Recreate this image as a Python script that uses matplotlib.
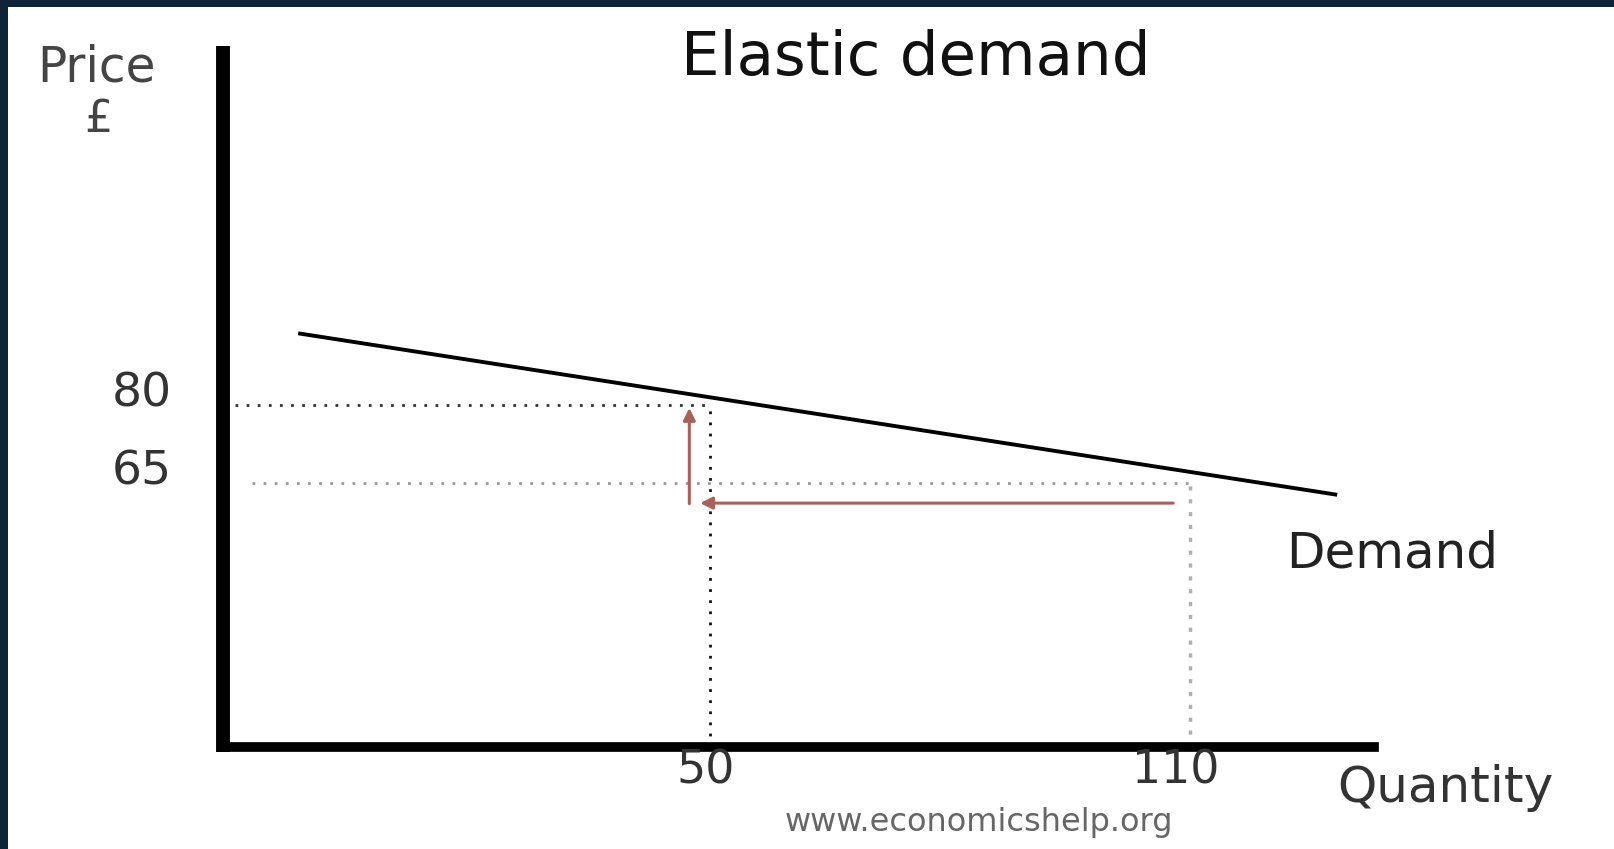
import matplotlib
matplotlib.use('Agg')
import matplotlib.pyplot as plt
from matplotlib.patches import Rectangle

# data
demand_q = [-1.5, 128.4]
demand_p = [93.75, 62.7]
price_levels = [80, 65]
price_labels = ['80', '65']
qty_levels = [50, 110]
qty_labels = ['50', '110']
guide_start_q = [-9.4, -7.25]      # where the dotted price guides start
# red arrows: quantity change then price change
arrow_q = [107.9, 48.75]
arrow_q_price = 61.1
arrow_p = [61.0, 79.4]
arrow_p_qty = 47.4

W, H = 1614, 849
fig = plt.figure(figsize=(W / 100, H / 100), dpi=100)
fig.patch.set_facecolor('white')


def fx(px):
    return px / W


def fy(py):
    return 1 - py / H


# dark frame along top and left
fig.patches.append(Rectangle((0, fy(7)), 1, 7 / H, transform=fig.transFigure,
                             facecolor='#0f2339', edgecolor='none'))
fig.patches.append(Rectangle((0, 0), fx(8), 1, transform=fig.transFigure,
                             facecolor='#0f2339', edgecolor='none'))

ax = fig.add_axes([fx(223), fy(747), fx(1374) - fx(223), fy(46) - fy(747)])
ax.set_xlim(-10.9, 133)
ax.set_ylim(14.2, 149.0)
ax.set_facecolor('none')
for s in ['top', 'right']:
    ax.spines[s].set_visible(False)
ax.spines['left'].set_linewidth(10)
ax.spines['bottom'].set_linewidth(7)
ax.spines['left'].set_capstyle('butt')
ax.spines['left'].set_bounds(13.2, 149.0)
ax.spines['bottom'].set_capstyle('projecting')
ax.set_xticks([])
ax.set_yticks([])

# dotted guides
ax.plot([guide_start_q[0], qty_levels[0]], [price_levels[0]] * 2,
        ls=(0, (1, 3)), lw=2, color='#333333')
ax.plot([guide_start_q[1], qty_levels[1]], [price_levels[1]] * 2,
        ls=(0, (1, 3)), lw=2, color='#999999')
ax.plot([qty_levels[0]] * 2, [14.2, price_levels[0]],
        ls=(0, (1, 3)), lw=2, color='#111111')
ax.plot([qty_levels[1]] * 2, [14.2, price_levels[1]],
        ls=(0, (1.2, 2.5)), lw=2.5, color='#b0b0b0')

# demand curve
ax.plot(demand_q, demand_p, color='black', lw=2.8, solid_capstyle='butt')

# arrows
ax.annotate('', xy=(arrow_q[1], arrow_q_price), xytext=(arrow_q[0], arrow_q_price),
            arrowprops=dict(arrowstyle='-|>', color='#a8625c', lw=2.2,
                            mutation_scale=18, shrinkA=0, shrinkB=0))
ax.annotate('', xy=(arrow_p_qty, arrow_p[1]), xytext=(arrow_p_qty, arrow_p[0]),
            arrowprops=dict(arrowstyle='-|>', color='#a8625c', lw=2.2,
                            mutation_scale=18, shrinkA=0, shrinkB=0))

# axis labels next to the levels
for v, t in zip(price_levels, price_labels):
    ax.annotate(t, xy=(0, v), xycoords=('axes fraction', 'data'),
                xytext=(-81, 11), textcoords='offset pixels',
                ha='center', va='center', fontsize=34, color='#333333')
for v, t, dx in zip(qty_levels, qty_labels, [-4, -14]):
    ax.annotate(t, xy=(v, 0), xycoords=('data', 'axes fraction'),
                xytext=(dx, -24), textcoords='offset pixels',
                ha='center', va='center', fontsize=33, color='#333333')

fig.text(fx(916), fy(58), 'Elastic demand', ha='center', va='center',
         fontsize=44, color='#111111')
fig.text(fx(97), fy(68), 'Price', ha='center', va='center',
         fontsize=35, color='#444444')
fig.text(fx(98), fy(119), '£', ha='center', va='center',
         fontsize=32, color='#444444')
fig.text(fx(1392), fy(553), 'Demand', ha='center', va='center',
         fontsize=36, color='#222222')
fig.text(fx(1445), fy(788), 'Quantity', ha='center', va='center',
         fontsize=36, color='#333333')
fig.text(fx(979), fy(822), 'www.economicshelp.org', ha='center', va='center',
         fontsize=23, color='#666666')

fig.savefig('out.png', dpi=100)
